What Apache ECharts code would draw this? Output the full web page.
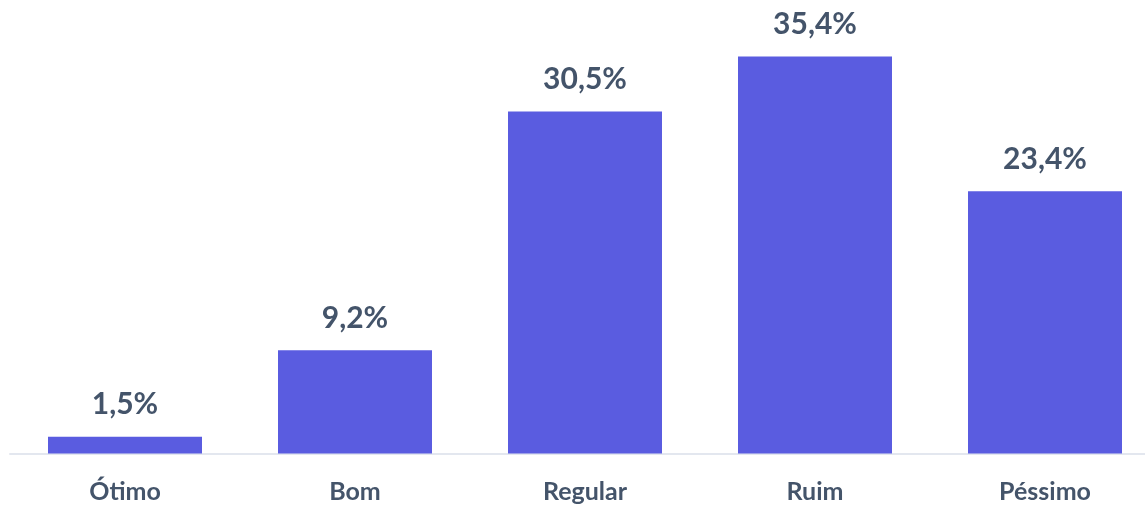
<!DOCTYPE html>
<html><head><meta charset="utf-8">
<script src="https://cdn.jsdelivr.net/npm/echarts@6/dist/echarts.min.js"></script>
<style>html,body{margin:0;padding:0;background:#fff}#c{width:1145px;height:506px}</style>
</head><body><div id="c"></div>
<script>
const categories = ['Ótimo', 'Bom', 'Regular', 'Ruim', 'Péssimo'];
const values = [1.5, 9.2, 30.5, 35.4, 23.4];

const chart = echarts.init(document.getElementById('c'), null, {renderer: 'canvas'});
chart.setOption({
  animation: false,
  grid: {left: 10, top: 5, right: -15, bottom: 52.5, containLabel: false, outerBoundsMode: 'none'},
  xAxis: {
    type: 'category', data: categories,
    axisLine: {show: true, lineStyle: {color: '#e3e7ef', width: 2}},
    axisTick: {show: false},
    axisLabel: {color: '#44546a', fontFamily: 'Lato', fontWeight: 'bold', fontSize: 25, margin: 26}
  },
  yAxis: {type: 'value', min: 0, max: 40, show: false, splitLine: {show: false}},
  series: [{
    type: 'bar', data: values, barWidth: 154,
    itemStyle: {color: '#5a5ce0'},
    label: {
      show: true, position: 'top', distance: 17,
      color: '#44546a', fontFamily: 'Lato', fontWeight: 'bold', fontSize: 30,
      formatter: p => p.value.toFixed(1).replace('.', ',') + '%'
    }
  }]
});
</script></body></html>
